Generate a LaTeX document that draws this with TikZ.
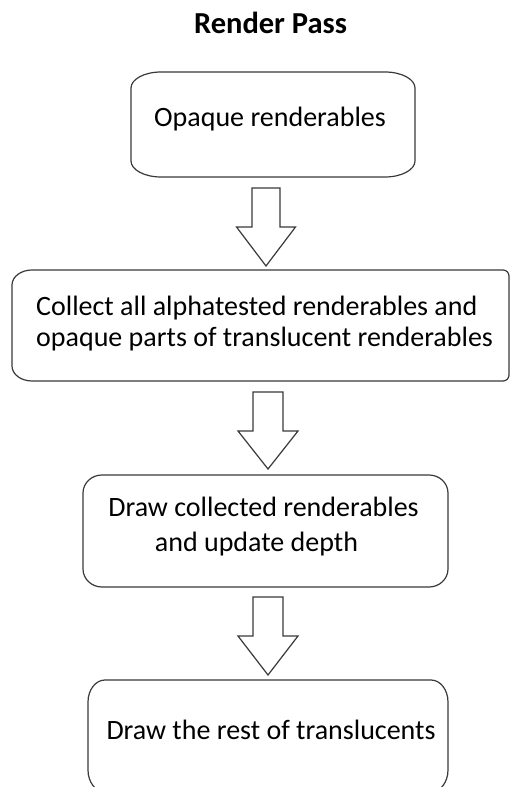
\documentclass[tikz,border=0pt]{standalone}
\usepackage{fontspec}
\setmainfont{Carlito}
\usetikzlibrary{calc}

\definecolor{edgegray}{HTML}{3A3A3A}

\tikzset{
  stepbox/.style={draw=none, inner sep=0pt, outer sep=0pt},
  frameline/.style={draw=edgegray, line width=1.2pt},
  boxtext/.style={font=\fontsize{28}{33}\selectfont, inner sep=0pt, anchor=base},
  titletext/.style={font=\fontsize{30.5}{33}\selectfont\bfseries, inner sep=0pt, anchor=base},
  flowarrow/.style={draw=edgegray, line width=1.2pt, fill=white, line join=miter},
}

% rounded frame with elliptical corners around a node:
% #1 node, #2/#3 left corner radii, #4/#5 right corner radii
\newcommand\elframe[5]{%
  \draw[frameline] ($(#1.north west)+(#2,0)$) -- ($(#1.north east)+(-#4,0)$)
    arc[start angle=90, end angle=0, x radius=#4, y radius=#5]
    -- ($(#1.south east)+(0,#5)$)
    arc[start angle=0, end angle=-90, x radius=#4, y radius=#5]
    -- ($(#1.south west)+(#2,0)$)
    arc[start angle=270, end angle=180, x radius=#2, y radius=#3]
    -- ($(#1.north west)+(0,-#3)$)
    arc[start angle=180, end angle=90, x radius=#2, y radius=#3]
    -- cycle;}

% hollow block arrow from a top coordinate down to a tip coordinate:
% #3 shaft half width, #4 head half width, #5 head length
\newcommand\blockarrow[5]{%
  \draw[flowarrow] ($(#1)+(-#3,0)$) -- ($(#1)+(#3,0)$)
    -- ($(#2)+(#3,#5)$) -- ($(#2)+(#4,#5)$) -- (#2)
    -- ($(#2)+(-#4,#5)$) -- ($(#2)+(-#3,#5)$) -- cycle;}

\begin{document}
\begin{tikzpicture}[x=1pt, y=1pt]
  \clip (0,0) rectangle (510,787);
  \fill[white] (0,0) rectangle (510,787);

  % title
  \node[titletext] (title) at (270.5,753.7) {Render Pass};

  % boxes
  \node[stepbox, minimum width=284pt, minimum height=105pt] (opaque) at (273,662.5) {};
  \node[stepbox, minimum width=497pt, minimum height=111pt] (collect) at (260.5,461.5) {};
  \node[stepbox, minimum width=365pt, minimum height=112pt] (drawcol) at (265.5,256) {};
  \node[stepbox, minimum width=360pt, minimum height=112pt] (rest) at (268,51) {};

  \elframe{opaque}{30}{16}{30}{16}
  \elframe{collect}{20}{15}{6}{6}
  \elframe{drawcol}{19}{18}{19}{18}
  \elframe{rest}{17}{22}{17}{22}

  % box texts
  \node[boxtext] (t1) at (270,660) {Opaque renderables};
  \node[boxtext, anchor=base west] (t2a) at (36,471) {Collect all alphatested renderables and};
  \node[boxtext, anchor=base west] (t2b) at (36,440) {opaque parts of translucent renderables};
  \node[boxtext] (t3a) at (263.5,270) {Draw collected renderables};
  \node[boxtext] (t3b) at (256.5,235) {and update depth};
  \node[boxtext] (t4) at (271,47) {Draw the rest of translucents};

  % arrows between the boxes
  \coordinate (a1top) at (266,599);
  \coordinate (a1tip) at (266,521);
  \coordinate (a2top) at (268,395);
  \coordinate (a2tip) at (268,318);
  \coordinate (a3top) at (268,190);
  \coordinate (a3tip) at (268,112);

  \blockarrow{a1top}{a1tip}{14}{29.5}{39}
  \blockarrow{a2top}{a2tip}{15}{30}{38}
  \blockarrow{a3top}{a3tip}{15}{30}{39}
\end{tikzpicture}
\end{document}
